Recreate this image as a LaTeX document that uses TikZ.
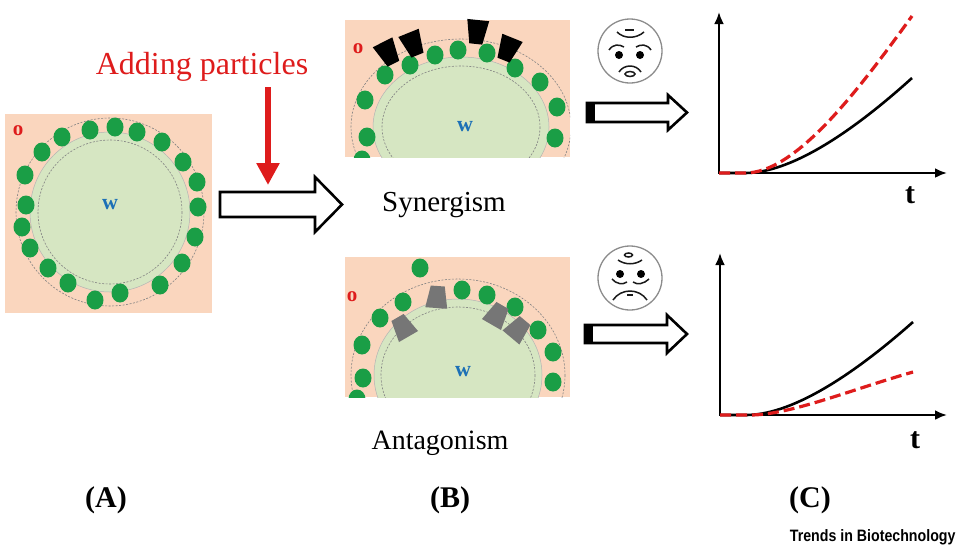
\documentclass[tikz,border=0pt]{standalone}
\usepackage{fontspec}
\setmainfont{Liberation Serif}
\newfontfamily\journalfont[FakeStretch=0.86]{Liberation Sans Bold}
\usetikzlibrary{arrows.meta}
\definecolor{oilpeach}{RGB}{250,214,190}
\definecolor{waterpale}{RGB}{214,230,194}
\definecolor{dropgreen}{RGB}{26,158,70}
\definecolor{labelred}{RGB}{222,28,28}
\definecolor{labelblue}{RGB}{28,112,182}
\definecolor{ringgray}{RGB}{130,130,130}
\definecolor{plaggray}{RGB}{118,118,118}
\tikzset{
  greendot/.style={fill=dropgreen},
  ring/.style={draw=ringgray,line width=0.6pt,dash pattern=on 2pt off 1.5pt},
  waterdisc/.style={fill=waterpale,draw=ringgray!60,line width=0.5pt},
  hollow/.style={draw=black,fill=white,line width=2.6pt,line join=miter},
  axis/.style={line width=2.6pt,{Latex[length=12pt,width=10pt]}-{Latex[length=12pt,width=10pt]}},
  facerim/.style={draw=black!45,fill=white,line width=1.3pt},
  facestroke/.style={draw=black!90,line width=1.5pt},
  oil/.style={text=labelred,font=\bfseries\fontsize{21}{21}\selectfont},
  water/.style={text=labelblue,font=\bfseries\fontsize{22}{22}\selectfont},
  caption/.style={font=\fontsize{29}{29}\selectfont,anchor=base},
  panel/.style={font=\bfseries\fontsize{30}{30}\selectfont},
  tlabel/.style={font=\bfseries\fontsize{30}{30}\selectfont},
  blockwide/.pic={\fill[black] (-11,-12) -- (11,-12) -- (6.5,12) -- (-6.5,12) -- cycle;},
  blocknarrow/.pic={\fill[plaggray] (-7,-11) -- (7,-11) -- (11,11) -- (-11,11) -- cycle;}
}
\begin{document}
\begin{tikzpicture}[x=1pt,y=-1pt]
\useasboundingbox (0,0) rectangle (960,550);

% (A) droplet
\fill[oilpeach] (5,114) rectangle (212,313);
\draw[ring] (110,212) circle (94);
\filldraw[waterdisc] (110,212) circle (80);
\draw[ring] (110,212) circle (72);
\foreach \px/\py in {90/130,115/127,137/132,162/142,183/162,197/182,198/207,195/237,
  182/263,160/285,120/293,95/300,68/283,48/268,30/248,22/227,26/205,25/175,42/152,62/137}
  \fill[greendot] (\px,\py) ellipse (8.5 and 9.5);
\node[oil] (oA) at (18,131) {o};
\node[water] (wA) at (110,205) {w};

% big arrow
\draw[hollow] (220,192) -- (315,192) -- (315,177) -- (342,204.5) -- (315,232) -- (315,217) -- (220,217) -- cycle;

% adding particles
\node[caption,text=labelred,font=\fontsize{32}{32}\selectfont] (adding) at (202,74) {Adding particles};
\coordinate (droptop) at (268,87);
\coordinate (droptip) at (268,185);
\draw[draw=labelred,line width=6pt,-{Triangle[length=22pt,width=22pt]}] (droptop) -- (droptip);

% (B) synergism
\begin{scope}
\clip (345,20) rectangle (570,157);
\fill[oilpeach] (345,20) rectangle (570,157);
\draw[ring] (461,127) ellipse (110 and 88);
\filldraw[waterdisc] (461,127) ellipse (88 and 70);
\draw[ring] (461,127) ellipse (79 and 61);
\foreach \px/\py in {458/50,435/55,410/65,385/75,365/100,367/137,362/160,
  487/53,515/68,540/82,557/107,555/138}
  \fill[greendot] (\px,\py) ellipse (8.5 and 9.5);
\end{scope}
\pic[rotate=27] at (388,53) {blockwide};
\pic[rotate=22] at (413,44) {blockwide};
\pic[rotate=-6] at (477,32) {blockwide};
\pic[rotate=-22] at (508,49) {blockwide};
\node[oil] (oB1) at (358,49) {o};
\node[water] (wB1) at (465,127) {w};
\node[caption] (syn) at (444,211) {Synergism};

% (B) antagonism
\begin{scope}
\clip (345,257) rectangle (570,397);
\fill[oilpeach] (345,257) rectangle (570,397);
\draw[ring] (458,375) ellipse (107 and 96);
\filldraw[waterdisc] (458,375) ellipse (84 and 76);
\draw[ring] (458,375) ellipse (77 and 68);
\foreach \px/\py in {403/302,380/318,362/345,363/378,357/399,
  462/290,487/295,515/307,538/330,553/352,553/382}
  \fill[greendot] (\px,\py) ellipse (8.5 and 9.5);
\end{scope}
\fill[greendot] (420,268) ellipse (8.5 and 9.5);
\pic[rotate=-4] at (437,297) {blocknarrow};
\pic[rotate=30] at (403,327) {blocknarrow};
\pic[rotate=-30] at (497,315) {blocknarrow};
\pic[rotate=-40] at (518,329) {blocknarrow};
\node[oil] (oB2) at (352,297) {o};
\node[water] (wB2) at (463,372) {w};
\node[caption,font=\fontsize{28}{28}\selectfont] (ant) at (440,449) {Antagonism};

% faces
\begin{scope}[shift={(630,51)}]
\draw[facerim] (0,0) circle (32);
\draw[facestroke] (-13,-19) .. controls (-6,-12) and (6,-12) .. (14,-19);
\draw[facestroke] (-5,-21) -- (4,-21);
\draw[facestroke] (-21,-1) .. controls (-17,-7) and (-11,-7) .. (-6,-4);
\draw[facestroke] (6,-4) .. controls (11,-7) and (17,-7) .. (21,-1);
\fill[black] (-11,4) circle (4);
\fill[black] (10,4) circle (4);
\draw[facestroke] (-11,21) .. controls (-6,13) and (6,13) .. (11,21);
\draw[facestroke] (0,23) ellipse (5 and 2.5);
\end{scope}
\begin{scope}[shift={(630,278)}]
\draw[facerim] (0,0) circle (32);
\draw[facestroke] (-1.5,-23) ellipse (4 and 2);
\draw[facestroke] (-12,-18) .. controls (-5,-13) and (5,-13) .. (12,-18);
\fill[black] (-10,-4) circle (4);
\fill[black] (11,-4) circle (4);
\draw[facestroke] (-18,1) .. controls (-14,6) and (-7,7) .. (-3,4);
\draw[facestroke] (3,4) .. controls (7,7) and (14,6) .. (19,1);
\draw[facestroke] (-17,22) .. controls (-9,10) and (9,10) .. (17,22);
\draw[facestroke] (-3,17) -- (3,17);
\end{scope}

% small arrows
\draw[hollow] (587,103) -- (668,103) -- (668,95) -- (687,112.5) -- (668,130) -- (668,122) -- (587,122) -- cycle;
\fill[black] (586,102) rectangle (595,123);
\draw[hollow] (585,325) -- (667,325) -- (667,315) -- (687,334) -- (667,353) -- (667,343) -- (585,343) -- cycle;
\fill[black] (584,324) rectangle (593,344);

% (C) curves
\coordinate (ytopA) at (719,12);
\coordinate (originA) at (719,173);
\coordinate (xendA) at (947,173);
\draw[axis] (ytopA) -- (originA) -- (xendA);
\draw[line width=2.6pt] (originA) -- (745,173) .. controls (795,173) and (860,125) .. (912,78);
\draw[labelred,line width=3.2pt,dash pattern=on 11pt off 5pt] (originA) -- (745,173) .. controls (795,173) and (855,95) .. (912,16);
\node[tlabel] (tA) at (910,195) {t};

\coordinate (ytopB) at (720,253);
\coordinate (originB) at (720,415);
\coordinate (xendB) at (947,415);
\draw[axis] (ytopB) -- (originB) -- (xendB);
\draw[line width=2.6pt] (originB) -- (746,415) .. controls (796,415) and (861,368) .. (913,322);
\draw[labelred,line width=3.2pt,dash pattern=on 11pt off 5pt] (originB) -- (750,415) .. controls (790,415) and (850,390) .. (913,372);
\node[tlabel] (tB) at (915,440) {t};

% panel letters
\node[panel] (pA) at (106,500) {(A)};
\node[panel] (pB) at (450,500) {(B)};
\node[panel] (pC) at (810,500) {(C)};
\node[anchor=east,font=\journalfont\fontsize{16.5}{16.5}\selectfont] (journal) at (959,537) {Trends in Biotechnology};
\end{tikzpicture}
\end{document}
